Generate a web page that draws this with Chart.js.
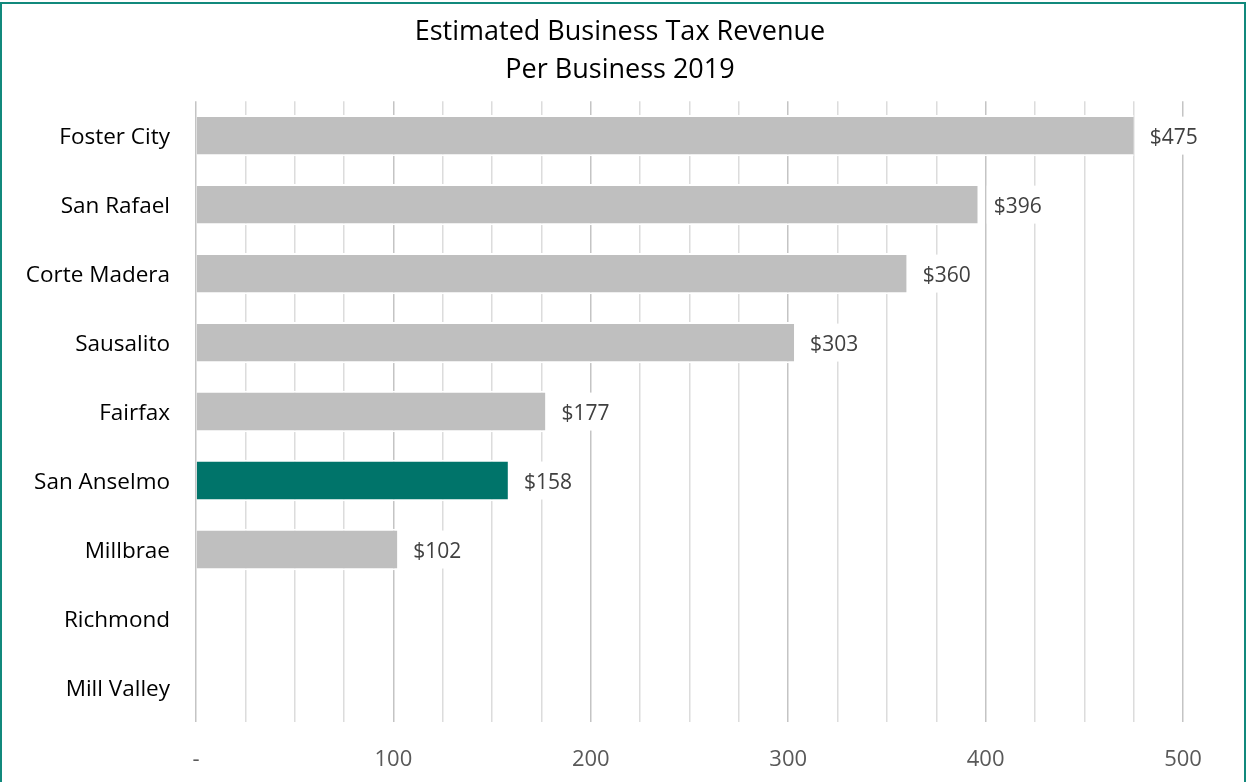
<!DOCTYPE html>
<html>
<head>
<meta charset="utf-8">
<script src="https://cdn.jsdelivr.net/npm/chart.js@4/dist/chart.umd.min.js"></script>
<style>
  html, body { margin: 0; padding: 0; background: #fff; }
  #wrap { position: relative; width: 1246px; height: 782px; overflow: hidden; }
  #c { position: absolute; left: 0; top: 0; }
  #frame {
    position: absolute; left: 0; top: 2px; width: 1246px; height: 800px;
    box-sizing: border-box; border: 2px solid #11897c; pointer-events: none;
  }
</style>
</head>
<body>
<div id="wrap">
  <canvas id="c" width="1246" height="782"></canvas>
  <div id="frame"></div>
</div>
<script>
// Revenue per business, 2019 (US dollars)
const cities = ['Foster City', 'San Rafael', 'Corte Madera', 'Sausalito', 'Fairfax',
                'San Anselmo', 'Millbrae', 'Richmond', 'Mill Valley'];
const revenuePerBusiness = [475, 396, 360, 303, 177, 158, 102, null, null];
const axisMin = 0;
const axisMax = 500;
const gridStep = 25;
const labelStep = 100;
const titleLines = ['Estimated Business Tax Revenue', 'Per Business 2019'];
const highlightCity = 'San Anselmo';

const FONT = '"Open Sans", "Noto Sans", sans-serif';
const GRAY_BAR = '#bfbfbf';
const TEAL_BAR = '#00746a';

// Value labels with a white box so grid lines do not run through the text
const valueLabels = {
  id: 'valueLabels',
  afterDatasetsDraw(chart) {
    const ctx = chart.ctx;
    const meta = chart.getDatasetMeta(0);
    ctx.save();
    ctx.font = '21px ' + FONT;
    ctx.textBaseline = 'middle';
    ctx.textAlign = 'left';
    meta.data.forEach((bar, i) => {
      const v = chart.data.datasets[0].data[i];
      if (v === null || v === undefined) return;
      const txt = '$' + v;
      const tx = bar.x + 16;
      const w = ctx.measureText(txt).width;
      ctx.fillStyle = '#ffffff';
      ctx.fillRect(tx - 7, bar.y - 19, w + 14, 38);
      ctx.fillStyle = '#404040';
      ctx.fillText(txt, tx, bar.y + 2);
    });
    ctx.restore();
  }
};

new Chart(document.getElementById('c'), {
  type: 'bar',
  data: {
    labels: cities,
    datasets: [{
      data: revenuePerBusiness,
      backgroundColor: cities.map(c => c === highlightCity ? TEAL_BAR : GRAY_BAR),
      borderColor: '#ffffff',
      borderWidth: { top: 2, bottom: 2, left: 0, right: 0 },
      borderSkipped: false,
      categoryPercentage: 1.0,
      barPercentage: 0.6
    }]
  },
  options: {
    indexAxis: 'y',
    responsive: false,
    animation: false,
    layout: { padding: { left: 0, right: 6, top: 0, bottom: 0 } },
    plugins: {
      legend: { display: false },
      tooltip: { enabled: false },
      title: {
        display: true,
        text: titleLines,
        color: '#000000',
        font: { family: FONT, size: 27, weight: 'normal', lineHeight: 1.41 },
        padding: { top: 13, bottom: 12 }
      }
    },
    scales: {
      x: {
        min: axisMin,
        max: axisMax,
        border: { display: false },
        grid: {
          drawTicks: false,
          lineWidth: 1.5,
          color: ctx => (ctx.tick && ctx.tick.value % labelStep === 0) ? '#c4c4c4' : '#dcdcdc'
        },
        ticks: {
          stepSize: gridStep,
          autoSkip: false,
          maxRotation: 0,
          padding: 25,
          color: '#595959',
          font: { family: FONT, size: 22 },
          callback: v => v === 0 ? '-' : (v % labelStep === 0 ? String(v) : '')
        },
        afterFit: s => { s.height = 60; }
      },
      y: {
        border: { display: false },
        grid: { display: false, drawTicks: false },
        ticks: {
          padding: 26,
          labelOffset: 2,
          color: '#000000',
          font: { family: FONT, size: 22.5 }
        },
        afterFit: s => { s.width = 196; }
      },
      // empty right-hand gutter so the title stays centred on the whole canvas
      gutter: {
        type: 'category',
        axis: 'y',
        position: 'right',
        labels: cities,
        border: { display: false },
        grid: { display: false, drawTicks: false },
        ticks: { display: false },
        afterFit: s => { s.width = 57; }
      }
    }
  },
  plugins: [valueLabels]
});
</script>
</body>
</html>
